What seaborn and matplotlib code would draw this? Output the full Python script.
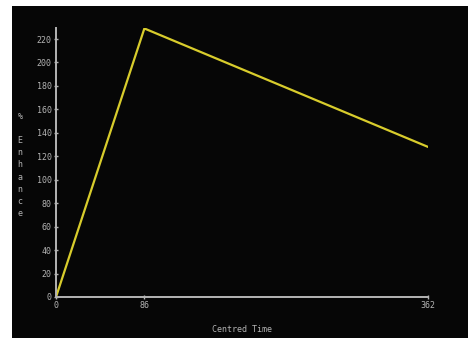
import matplotlib
matplotlib.use("Agg")
import matplotlib.pyplot as plt
import seaborn as sns
import pandas as pd
from matplotlib.patches import Rectangle

# data
centred_time = [0, 86, 362]
enhance = [0, 229, 128]
x_ticks = [0, 86, 362]
y_ticks = list(range(0, 221, 20))

df = pd.DataFrame({"Centred Time": centred_time, "% Enhance": enhance})

sns.set_style("dark")
plt.rcParams["font.family"] = ["DejaVu Sans Mono", "DejaVu Sans"]

fig = plt.figure(figsize=(4.75, 3.38), dpi=100, facecolor="white")
# black panel of the screenshot
fig.patches.append(Rectangle((12 / 475, 0), 456 / 475, 332 / 338,
                             transform=fig.transFigure, facecolor="#060606",
                             edgecolor="none", zorder=-10))

ax = fig.add_axes([56 / 475, 1 - 297 / 338, (428 - 56) / 475, (297 - 28) / 338])
ax.set_facecolor("#060606")
ax.set_zorder(1)

sns.lineplot(data=df, x="Centred Time", y="% Enhance", ax=ax,
             color="#d8cc2c", linewidth=1.6)

ax.set_xlim(0, 362)
ax.set_ylim(0, 229.4)
ax.set_xticks(x_ticks)
ax.set_yticks(y_ticks)
ax.grid(False)

grey = "#b4b4b4"
for side in ["top", "right"]:
    ax.spines[side].set_visible(False)
for side in ["left", "bottom"]:
    ax.spines[side].set_visible(True)
    ax.spines[side].set_color(grey)
    ax.spines[side].set_linewidth(1.4)
ax.tick_params(colors=grey, labelsize=6, length=3, width=1, direction="inout", pad=1.5,
               bottom=True, left=True)

ax.set_xlabel("")
ax.set_ylabel("")
fig.text(242 / 475, 1 - 329 / 338, "Centred Time", color=grey, fontsize=6,
         ha="center", va="center")
fig.text(20 / 475, 1 - 165 / 338, "\n".join("% Enhance"), color=grey, fontsize=6,
         ha="center", va="center", linespacing=1.45)

fig.savefig("out.png", dpi=100, facecolor="white")
